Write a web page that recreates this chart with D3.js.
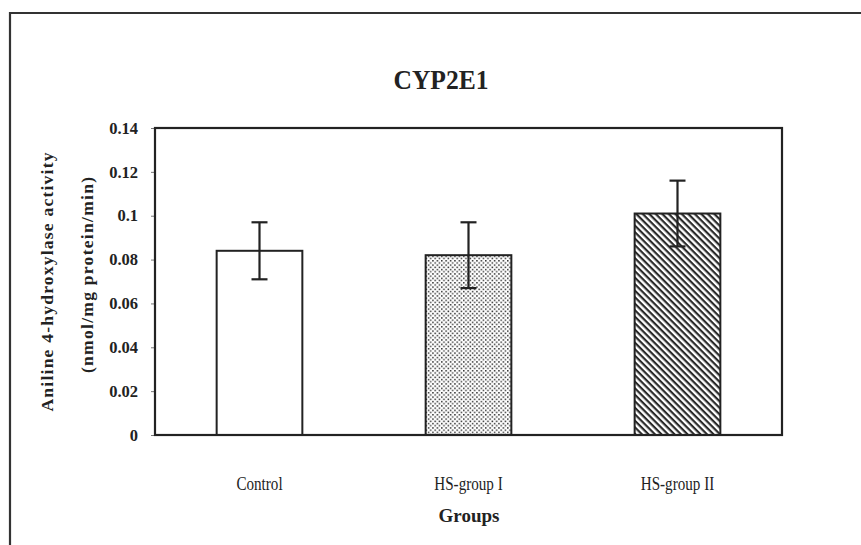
<!DOCTYPE html>
<html>
<head>
<meta charset="utf-8">
<script src="https://cdn.jsdelivr.net/npm/d3@7"></script>
<style>
  html, body { margin: 0; padding: 0; background: #fff; }
  svg { display: block; }
  text { fill: #222; }
</style>
</head>
<body>
<svg id="chart" width="861" height="545"></svg>
<script>
// CYP2E1 activity per group (mean ± SD)
const groups = ["Control", "HS-group I", "HS-group II"];
const means = [0.084, 0.082, 0.101];
const errors = [0.013, 0.015, 0.015];
const fills = ["plain", "dots", "hatch"];
const yTicks = [0, 0.02, 0.04, 0.06, 0.08, 0.1, 0.12, 0.14];
const yTickLabels = ["0", "0.02", "0.04", "0.06", "0.08", "0.1", "0.12", "0.14"];

const svg = d3.select("#chart");
const W = 861, H = 545;
const margin = { left: 155, top: 128, right: 79, bottom: 110 };
const plotW = W - margin.left - margin.right;
const plotH = H - margin.top - margin.bottom;
const ink = "#222";

// fill patterns
const defs = svg.append("defs");
const dots = defs.append("pattern")
  .attr("id", "dots").attr("patternUnits", "userSpaceOnUse")
  .attr("width", 4.4).attr("height", 4.4);
dots.append("rect").attr("width", 4.4).attr("height", 4.4).attr("fill", "#fff");
dots.append("rect").attr("x", 0).attr("y", 0).attr("width", 1.5).attr("height", 1.5).attr("fill", "#333");
dots.append("rect").attr("x", 2.2).attr("y", 2.2).attr("width", 1.5).attr("height", 1.5).attr("fill", "#333");

const hatch = defs.append("pattern")
  .attr("id", "hatch").attr("patternUnits", "userSpaceOnUse")
  .attr("width", 4.6).attr("height", 4.6)
  .attr("patternTransform", "rotate(45)");
hatch.append("rect").attr("width", 4.6).attr("height", 4.6).attr("fill", "#fff");
hatch.append("rect").attr("x", 0).attr("y", 0).attr("width", 4.6).attr("height", 2.2).attr("fill", "#2a2a2a");

// outer frame (top and left edges)
svg.append("path")
  .attr("d", `M10,${H} L10,13 L${W},13`)
  .attr("fill", "none").attr("stroke", "#333").attr("stroke-width", 2.2);

const g = svg.append("g").attr("transform", `translate(${margin.left},${margin.top})`);

const x = d3.scaleBand().domain(groups).range([0, plotW]).paddingInner(0.59).paddingOuter(0.295);
const y = d3.scaleLinear().domain([0, 0.14]).range([plotH, 0]);

// y axis ticks and labels
const yAxis = d3.axisLeft(y).tickValues(yTicks)
  .tickFormat((d, i) => yTickLabels[i]).tickSize(4).tickPadding(13);
const ya = g.append("g").call(yAxis);
ya.select(".domain").remove();
ya.selectAll(".tick line").attr("stroke", "#777").attr("stroke-width", 1);
ya.selectAll(".tick text")
  .attr("font-family", "Liberation Serif, serif")
  .attr("font-weight", "bold").attr("font-size", 16.5).attr("fill", ink);

// bars
const fillFor = f => f === "dots" ? "url(#dots)" : f === "hatch" ? "url(#hatch)" : "#fff";
g.selectAll("rect.bar").data(groups).join("rect")
  .attr("class", "bar")
  .attr("x", d => x(d))
  .attr("y", (d, i) => y(means[i]))
  .attr("width", x.bandwidth())
  .attr("height", (d, i) => y(0) - y(means[i]))
  .attr("fill", (d, i) => fillFor(fills[i]))
  .attr("stroke", ink).attr("stroke-width", 2);

// error bars
const capW = 16;
const eb = g.selectAll("g.err").data(groups).join("g").attr("class", "err")
  .attr("transform", d => `translate(${x(d) + x.bandwidth() / 2},0)`);
eb.append("line")
  .attr("y1", (d, i) => y(means[i] + errors[i]))
  .attr("y2", (d, i) => y(means[i] - errors[i]))
  .attr("stroke", ink).attr("stroke-width", 2.2);
eb.append("line").attr("x1", -capW / 2).attr("x2", capW / 2)
  .attr("y1", (d, i) => y(means[i] + errors[i]))
  .attr("y2", (d, i) => y(means[i] + errors[i]))
  .attr("stroke", ink).attr("stroke-width", 2.2);
eb.append("line").attr("x1", -capW / 2).attr("x2", capW / 2)
  .attr("y1", (d, i) => y(means[i] - errors[i]))
  .attr("y2", (d, i) => y(means[i] - errors[i]))
  .attr("stroke", ink).attr("stroke-width", 2.2);

// plot frame
g.append("rect").attr("x", 0).attr("y", 0).attr("width", plotW).attr("height", plotH)
  .attr("fill", "none").attr("stroke", ink).attr("stroke-width", 2.2);

// category labels
g.selectAll("text.cat").data(groups).join("text")
  .attr("class", "cat")
  .attr("x", d => x(d) + x.bandwidth() / 2)
  .attr("y", 490 - margin.top)
  .attr("text-anchor", "middle")
  .attr("font-family", "Liberation Serif, serif")
  .attr("font-size", 18)
  .text(d => d)
  .each(function () {
    const len = this.getComputedTextLength();
    d3.select(this).attr("textLength", len * 0.84).attr("lengthAdjust", "spacingAndGlyphs");
  });

// title
svg.append("text")
  .attr("x", 441).attr("y", 89)
  .attr("text-anchor", "middle")
  .attr("font-family", "Liberation Serif, serif")
  .attr("font-weight", "bold").attr("font-size", 27)
  .attr("textLength", 95).attr("lengthAdjust", "spacingAndGlyphs")
  .text("CYP2E1");

// x axis title
svg.append("text")
  .attr("x", 469).attr("y", 522)
  .attr("text-anchor", "middle")
  .attr("font-family", "Liberation Serif, serif")
  .attr("font-weight", "bold").attr("font-size", 19)
  .text("Groups");

// y axis title (two lines)
svg.append("text")
  .attr("transform", "translate(53,282) rotate(-90)")
  .attr("text-anchor", "middle")
  .attr("font-family", "Liberation Serif, serif")
  .attr("font-weight", "bold").attr("font-size", 17.5)
  .attr("textLength", 259).attr("lengthAdjust", "spacing")
  .text("Aniline 4-hydroxylase activity");
svg.append("text")
  .attr("transform", "translate(93,275) rotate(-90)")
  .attr("text-anchor", "middle")
  .attr("font-family", "Liberation Serif, serif")
  .attr("font-weight", "bold").attr("font-size", 17.5)
  .attr("textLength", 196).attr("lengthAdjust", "spacing")
  .text("(nmol/mg protein/min)");
</script>
</body>
</html>
